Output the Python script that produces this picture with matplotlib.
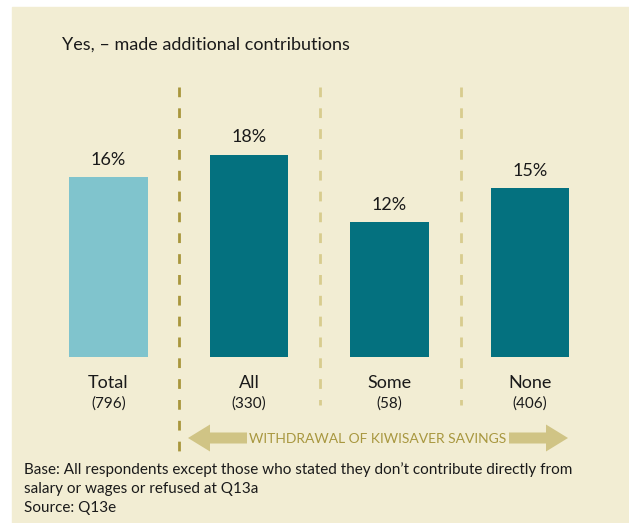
import matplotlib.pyplot as plt
from matplotlib.patches import Rectangle, FancyArrow

# ---- DATA ----
categories = ["Total", "All", "Some", "None"]
bases = ["(796)", "(330)", "(58)", "(406)"]
values = [16, 18, 12, 15]
bar_colors = ["#80C4CD", "#04717F", "#04717F", "#04717F"]

BG = "#F2EDD3"
W, H = 629, 523
plt.rcParams['font.family'] = ['Lato', 'DejaVu Sans']

fig = plt.figure(figsize=(W / 100, H / 100), dpi=100)
fig.patch.set_facecolor("white")

# sfondo (pixel coords, origine in alto a sinistra)
bg = fig.add_axes([0, 0, 1, 1])
bg.set_xlim(0, W)
bg.set_ylim(H, 0)
bg.axis("off")
bg.add_patch(Rectangle((12, 7), W - 12, H - 7, color=BG, zorder=0))

# ---- BARRE ----
ax = fig.add_axes([38.25 / W, (H - 357) / H, 562 / W, 225 / H])
ax.set_xlim(-0.5, 3.5)
ax.set_ylim(0, 20)
ax.axis("off")
ax.patch.set_alpha(0)
bars = ax.bar(range(4), values, width=0.562, color=bar_colors)
for i, v in enumerate(values):
    ax.text(i, v + 0.8, f"{v}%", ha="center", va="bottom", fontsize=13, color="#1a1a1a")
    ax.text(i, -2.3, categories[i], ha="center", va="center", fontsize=13,
            color="#1a1a1a", clip_on=False)
    ax.text(i, -4.1, bases[i], ha="center", va="center", fontsize=11,
            color="#1a1a1a", clip_on=False)

# linee tratteggiate di separazione
bg.plot([179, 179], [87, 452], ls=(0, (3.5, 4)), lw=2, color="#A8963C")
for x in [320, 461]:
    bg.plot([x, x], [87, 405], ls=(0, (3.5, 4)), lw=2, color="#D8CC8E")

# freccia
arrow_col = "#D0C485"
bg.add_patch(FancyArrow(280, 438, -92, 0, width=11, head_width=27, head_length=22,
                        length_includes_head=True, color=arrow_col, lw=0))
bg.add_patch(FancyArrow(470, 438, 98, 0, width=11, head_width=27, head_length=22,
                        length_includes_head=True, color=arrow_col, lw=0))
bg.text(378, 439, "WITHDRAWAL OF KIWISAVER SAVINGS", ha="center", va="center",
        fontsize=10, color="#A8973F",
        bbox=dict(facecolor=BG, edgecolor="none", pad=2))

# titolo e note
bg.text(62, 45, "Yes, \u2013 made additional contributions", ha="left", va="center",
        fontsize=13, color="#1a1a1a")
notes = ["Base: All respondents except those who stated they don\u2019t contribute directly from",
         "salary or wages or refused at Q13a",
         "Source: Q13e"]
for k, line in enumerate(notes):
    bg.text(24, 470 + 19 * k, line, ha="left", va="center", fontsize=11, color="#1a1a1a")

fig.savefig("out.png", dpi=100, facecolor=fig.get_facecolor())
